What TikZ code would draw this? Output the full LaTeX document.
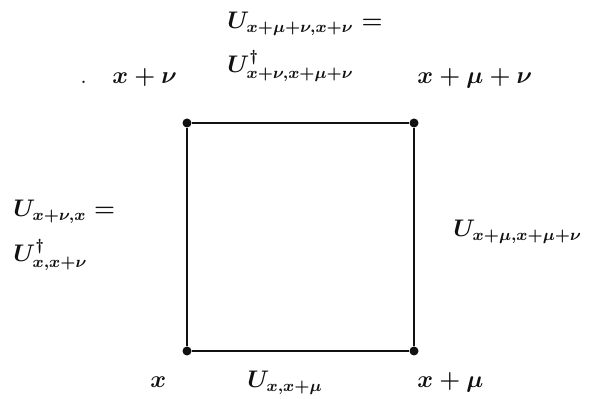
\documentclass[tikz,border=0pt]{standalone}
\usepackage{amsmath, amssymb}
\usepackage{xcolor}
\usepackage{tikz}
\usetikzlibrary{positioning, calc}
\definecolor{inkOne}{HTML}{111111}
\tikzset{
  site/.style={circle, fill=inkOne, inner sep=0pt, minimum size=4.5pt},
  link/.style={draw=inkOne, line width=0.9pt},
  lbl/.style={font=\large\boldmath, text=inkOne, anchor=base west, inner sep=0pt},
}

\begin{document}
\begin{tikzpicture}[x=0.5pt, y=-0.5pt]
  \useasboundingbox (0,0) rectangle (594,399);
  % ---- corner sites of the plaquette
  \node[site] (x)     at (187,351) {};
  \node[site] (xmu)   at (414,351) {};
  \node[site] (xnu)   at (187,123) {};
  \node[site] (xmunu) at (414,123) {};
  \draw[link] (x) -- (xmu) -- (xmunu) -- (xnu) -- (x);
  % ---- site labels
  \node[lbl] (lx)     at (150,388) {$x$};
  \node[lbl] (lxmu)   at (417,388) {$x+\mu$};
  \node[lbl] (lxnu)   at (112,84) {$x+\nu$};
  \node[lbl] (lxmunu) at (417,84) {$x+\mu+\nu$};
  \node[lbl] (speck)  at (80,84) {.};
  % ---- link labels
  \node[lbl] (ubot)   at (247,388) {$U_{x,x+\mu}$};
  \node[lbl] (uright) at (453,237) {$U_{x+\mu,x+\mu+\nu}$};
  \node[lbl] (utopa)  at (227,29) {$U_{x+\mu+\nu,x+\nu} =$};
  \node[lbl] (utopb)  at (227,73) {$U^\dagger_{x+\nu,x+\mu+\nu}$};
  \node[lbl] (ulefta) at (13,217) {$U_{x+\nu,x} =$};
  \node[lbl] (uleftb) at (13,262) {$U^\dagger_{x,x+\nu}$};
\end{tikzpicture}
\end{document}
